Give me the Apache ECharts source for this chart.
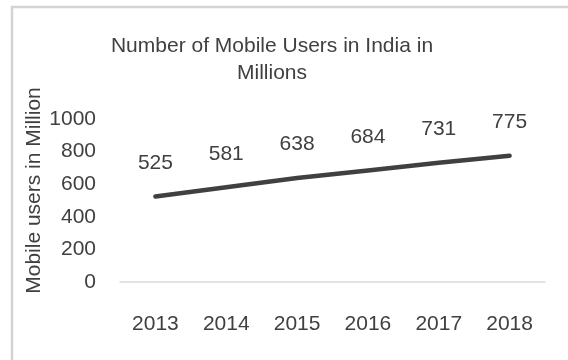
<!DOCTYPE html>
<html>
<head>
<meta charset="utf-8">
<script src="https://cdn.jsdelivr.net/npm/echarts@6/dist/echarts.min.js"></script>
<style>
  html, body { margin: 0; padding: 0; background: #fff; }
  #chart { width: 568px; height: 360px; }
</style>
</head>
<body>
<div id="chart"></div>
<script>
// Mobile users in India, millions per year
const years = ['2013', '2014', '2015', '2016', '2017', '2018'];
const users = [525, 581, 638, 684, 731, 775];
const yTicks = { min: 0, max: 1000, interval: 200 };

const textColor = '#404040';
const fontFamily = '"Liberation Sans", Arial, sans-serif';

const chart = echarts.init(document.getElementById('chart'), null, { renderer: 'canvas' });

chart.setOption({
  backgroundColor: '#ffffff',
  animation: false,
  title: {
    text: 'Number of Mobile Users in India in\nMillions',
    left: 272,
    top: 33,
    padding: 0,
    textAlign: 'center',
    textStyle: {
      fontFamily: fontFamily,
      fontSize: 21,
      fontWeight: 'normal',
      color: textColor,
      lineHeight: 27
    }
  },
  graphic: [
    {
      // chart-area frame (runs off the right and bottom edges)
      type: 'rect',
      silent: true,
      shape: { x: 12, y: 7, width: 620, height: 420 },
      style: { fill: 'none', stroke: '#d3d3d3', lineWidth: 2.5 }
    }
  ],
  grid: { left: 120, right: 23, top: 119, bottom: 78 },
  xAxis: {
    type: 'category',
    data: years,
    boundaryGap: true,
    axisLine: { show: true, lineStyle: { color: '#d9d9d9', width: 1.5 } },
    axisTick: { show: false },
    axisLabel: { color: textColor, fontFamily: fontFamily, fontSize: 21, margin: 32 }
  },
  yAxis: {
    type: 'value',
    min: yTicks.min,
    max: yTicks.max,
    interval: yTicks.interval,
    name: 'Mobile users in Million',
    nameLocation: 'middle',
    nameGap: 75,
    nameRotate: 90,
    nameMoveOverlap: false,
    nameTextStyle: {
      color: textColor,
      fontFamily: fontFamily,
      fontSize: 21,
      padding: [0, 0, 0, 20]
    },
    axisLine: { show: false },
    axisTick: { show: false },
    splitLine: { show: false },
    axisLabel: {
      color: textColor,
      fontFamily: fontFamily,
      fontSize: 21,
      margin: 24,
      formatter: function (v) { return String(v); }
    }
  },
  series: [
    {
      type: 'line',
      data: users,
      showSymbol: true,
      showAllSymbol: true,
      symbol: 'circle',
      symbolSize: 2,
      itemStyle: { color: '#404040' },
      lineStyle: { color: '#404040', width: 4.5, cap: 'round', join: 'round' },
      label: {
        show: true,
        position: 'top',
        distance: 22,
        color: textColor,
        fontFamily: fontFamily,
        fontSize: 21
      }
    }
  ]
});
</script>
</body>
</html>
